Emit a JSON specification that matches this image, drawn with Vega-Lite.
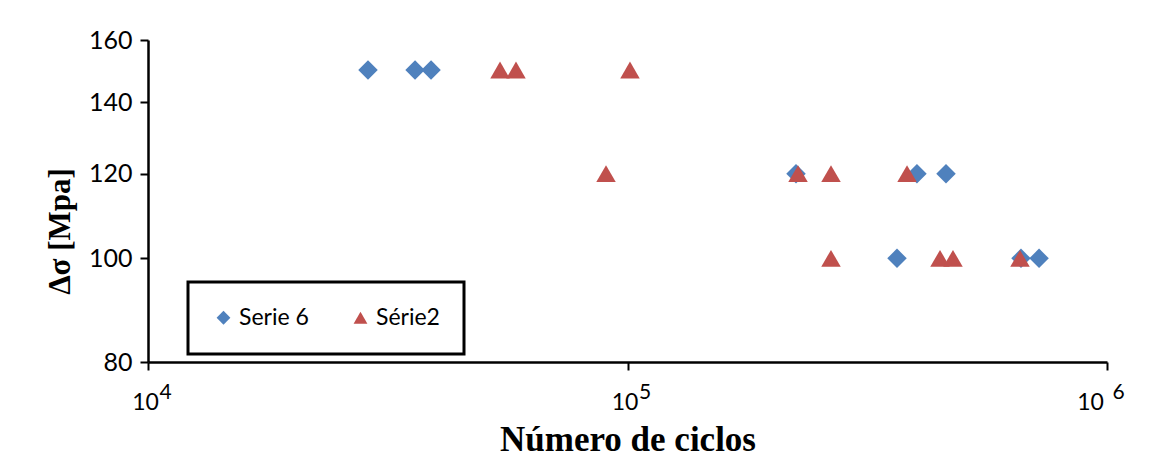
{
  "$schema": "https://vega.github.io/schema/vega-lite/v6.json",
  "autosize": "none",
  "width": 959,
  "height": 322,
  "padding": {"left": 148, "top": 40, "right": 63, "bottom": 96},
  "background": "white",
  "data": {
    "values": [
      {"ciclos": 28760, "sigma": 150, "serie": "Serie 6"},
      {"ciclos": 36050, "sigma": 150, "serie": "Serie 6"},
      {"ciclos": 38930, "sigma": 150, "serie": "Serie 6"},
      {"ciclos": 224600, "sigma": 120, "serie": "Serie 6"},
      {"ciclos": 401500, "sigma": 120, "serie": "Serie 6"},
      {"ciclos": 461600, "sigma": 120, "serie": "Serie 6"},
      {"ciclos": 364800, "sigma": 100, "serie": "Serie 6"},
      {"ciclos": 661600, "sigma": 100, "serie": "Serie 6"},
      {"ciclos": 721600, "sigma": 100, "serie": "Serie 6"},
      {"ciclos": 54220, "sigma": 150, "serie": "Série2"},
      {"ciclos": 58540, "sigma": 150, "serie": "Série2"},
      {"ciclos": 101200, "sigma": 150, "serie": "Série2"},
      {"ciclos": 90200, "sigma": 120, "serie": "Série2"},
      {"ciclos": 226800, "sigma": 120, "serie": "Série2"},
      {"ciclos": 265700, "sigma": 120, "serie": "Série2"},
      {"ciclos": 382800, "sigma": 120, "serie": "Série2"},
      {"ciclos": 265700, "sigma": 100, "serie": "Série2"},
      {"ciclos": 448500, "sigma": 100, "serie": "Série2"},
      {"ciclos": 477300, "sigma": 100, "serie": "Série2"},
      {"ciclos": 658500, "sigma": 100, "serie": "Série2"}
    ]
  },
  "encoding": {
    "y": {
      "field": "sigma",
      "type": "quantitative",
      "scale": {"type": "log", "domain": [80, 160], "nice": false},
      "axis": {
        "title": "Δσ [Mpa]",
        "values": [80, 100, 120, 140, 160],
        "grid": false,
        "tickSize": 8,
        "labelPadding": 8,
        "labelFont": "Lato",
        "labelFontSize": 25,
        "titleFont": "Liberation Serif",
        "titleFontSize": 31,
        "titleFontWeight": "bold",
        "titlePadding": 12,
        "titleY": 191
      }
    },
    "color": {
      "field": "serie",
      "type": "nominal",
      "scale": {"domain": ["Serie 6", "Série2"], "range": ["#4F81BD", "#C0504D"]},
      "legend": {
        "title": null,
        "orient": "none",
        "legendX": 40,
        "legendY": 242,
        "direction": "horizontal",
        "columns": 2,
        "padding": 24,
        "strokeColor": "black",
        "fillColor": "white",
        "labelFont": "Lato",
        "labelFontSize": 23,
        "labelColor": "black",
        "symbolSize": 190,
        "columnPadding": 40,
        "labelOffset": 4
      }
    },
    "shape": {
      "field": "serie",
      "type": "nominal",
      "scale": {"domain": ["Serie 6", "Série2"], "range": ["diamond", "triangle-up"]}
    }
  },
  "layer": [
    {
      "transform": [{"filter": "datum.serie == 'Serie 6'"}],
      "mark": {"type": "point", "filled": true, "opacity": 1, "size": 380},
      "encoding": {
        "x": {
          "field": "ciclos",
          "type": "quantitative",
          "scale": {"type": "log", "domain": [10000, 1000000], "nice": false},
          "axis": {
            "orient": "bottom",
            "title": "Número de ciclos",
            "values": [10000, 100000, 1000000],
            "labelExpr": "'10'",
            "labelFlush": false,
            "labelOffset": {"condition": {"test": "datum.value == 1000000", "value": -17}, "value": -3},
            "grid": false,
            "tickSize": 8,
            "labelPadding": 21,
            "labelFont": "Lato",
            "labelFontSize": 23,
            "titleFont": "Liberation Serif",
            "titleFontSize": 35,
            "titleFontWeight": "bold",
            "titlePadding": 8
          }
        }
      }
    },
    {
      "transform": [{"filter": "datum.serie == 'Série2'"}],
      "mark": {"type": "point", "filled": true, "opacity": 1, "size": 380},
      "encoding": {
        "x": {
          "field": "ciclos",
          "type": "quantitative",
          "scale": {"type": "log", "domain": [10000, 1000000], "nice": false},
          "axis": {
            "orient": "bottom",
            "title": null,
            "values": [10000, 100000, 1000000],
            "labelExpr": "datum.value == 10000 ? '4' : datum.value == 100000 ? '5' : '6'",
            "labelFlush": false,
            "labelOffset": {"condition": {"test": "datum.value == 1000000", "value": 11}, "value": 17},
            "grid": false,
            "domain": false,
            "tickSize": 8,
            "tickOpacity": 0,
            "labelPadding": 11,
            "labelFont": "Lato",
            "labelFontSize": 21
          }
        }
      }
    }
  ],
  "resolve": {"axis": {"x": "independent"}},
  "config": {
    "view": {"stroke": null},
    "legend": {"strokeWidth": 3},
    "axis": {"domainColor": "black", "domainWidth": 2.5, "tickColor": "black", "tickWidth": 2, "labelColor": "black", "titleColor": "black"}
  }
}
